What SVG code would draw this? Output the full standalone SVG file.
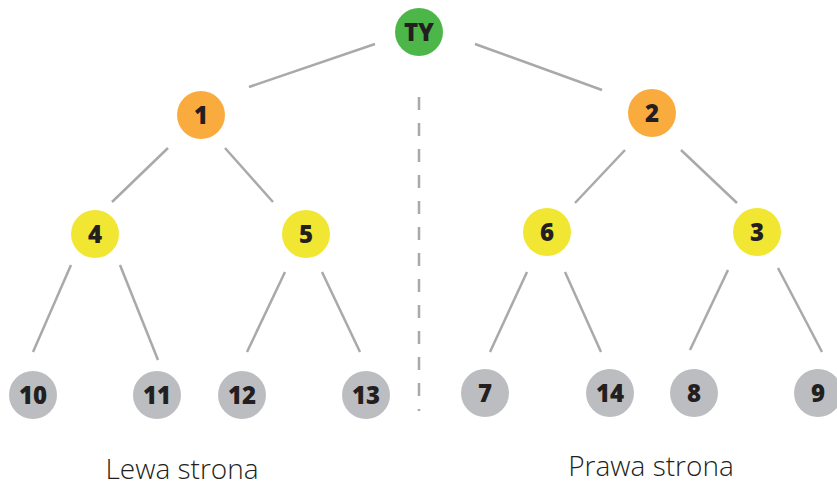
<svg xmlns="http://www.w3.org/2000/svg" width="837" height="488" viewBox="0 0 837 488">
<style>
.e{stroke:#a7a9ac;stroke-width:2.5;fill:none}
.d{stroke:#a7a9ac;stroke-width:2.5;stroke-dasharray:13 13;fill:none}
.g{fill:#4cb748}.o{fill:#f9ac3d}.y{fill:#f1e733}.s{fill:#bcbdc0}
.t{font-family:"Open Sans","DejaVu Sans",sans-serif;font-weight:800;font-size:24px;fill:#231f20;text-anchor:middle}
.l{font-family:"Open Sans","Liberation Sans",sans-serif;font-weight:300;font-size:28px;fill:#231f20;text-anchor:middle}
</style>
<rect width="837" height="488" fill="#fff"/>
<g id="connectors">
<line class="e" x1="249" y1="87" x2="375" y2="44"/>
<line class="e" x1="475" y1="44" x2="602" y2="90"/>
<line class="e" x1="168" y1="148" x2="112" y2="202"/>
<line class="e" x1="225" y1="148" x2="273" y2="202"/>
<line class="e" x1="625" y1="150" x2="575" y2="203"/>
<line class="e" x1="681" y1="150" x2="737" y2="203"/>
<line class="e" x1="71" y1="265" x2="33" y2="352"/>
<line class="e" x1="120" y1="265" x2="158" y2="360"/>
<line class="e" x1="285" y1="272" x2="247" y2="352"/>
<line class="e" x1="322" y1="272" x2="360" y2="352"/>
<line class="e" x1="527" y1="272" x2="490" y2="352"/>
<line class="e" x1="565" y1="272" x2="601" y2="352"/>
<line class="e" x1="728" y1="270" x2="690" y2="350"/>
<line class="e" x1="778" y1="268" x2="822" y2="352"/>
<line class="d" x1="419" y1="97" x2="419" y2="411"/>
</g>
<g id="n-ty"><circle class="g" cx="419" cy="32" r="24"/><text class="t" x="419" y="41">TY</text></g>
<g id="n-1"><circle class="o" cx="201" cy="115" r="24"/><text class="t" x="201" y="124">1</text></g>
<g id="n-2"><circle class="o" cx="652" cy="113" r="24"/><text class="t" x="652" y="122">2</text></g>
<g id="n-4"><circle class="y" cx="95" cy="234" r="24"/><text class="t" x="95" y="243">4</text></g>
<g id="n-5"><circle class="y" cx="306" cy="234" r="24"/><text class="t" x="306" y="243">5</text></g>
<g id="n-6"><circle class="y" cx="547" cy="232" r="24"/><text class="t" x="547" y="241">6</text></g>
<g id="n-3"><circle class="y" cx="757" cy="232" r="24"/><text class="t" x="757" y="241">3</text></g>
<g id="n-10"><circle class="s" cx="33" cy="395" r="24"/><text class="t" x="33" y="404">10</text></g>
<g id="n-11"><circle class="s" cx="157" cy="395" r="24"/><text class="t" x="157" y="404">11</text></g>
<g id="n-12"><circle class="s" cx="242" cy="395" r="24"/><text class="t" x="242" y="404">12</text></g>
<g id="n-13"><circle class="s" cx="366" cy="395" r="24"/><text class="t" x="366" y="404">13</text></g>
<g id="n-7"><circle class="s" cx="485" cy="393" r="24"/><text class="t" x="485" y="402">7</text></g>
<g id="n-14"><circle class="s" cx="610" cy="393" r="24"/><text class="t" x="610" y="402">14</text></g>
<g id="n-8"><circle class="s" cx="694" cy="393" r="24"/><text class="t" x="694" y="402">8</text></g>
<g id="n-9"><circle class="s" cx="818" cy="393" r="24"/><text class="t" x="818" y="402">9</text></g>
<text class="l" x="182" y="479">Lewa strona</text>
<text class="l" x="651" y="476">Prawa strona</text>
</svg>
